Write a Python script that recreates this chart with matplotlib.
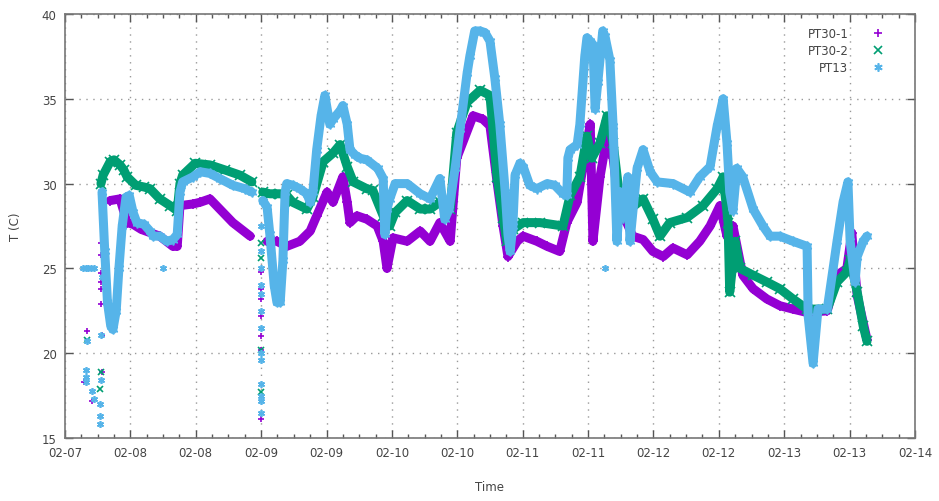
import numpy as np
import pandas as pd
import matplotlib
matplotlib.use("Agg")
import matplotlib.pyplot as plt
import matplotlib.dates as mdates

# hours since 02-07 00:00, temperature in C
pt301_h = [20.3, 22.1, 23.4, 24.5, 26.0, 29.4, 31.8, 32.6, 33.1, 35.5, 36.8, 38.6, 40.4, 42.8, 46.0,
           49.1, 50.9, 52.7, 55.1, 57.0, 58.2, 60.1, 61.2, 63.0, 63.8, 64.3, 65.6, 67.4, 69.3, 70.4,
           71.1, 72.2, 74.8, 77.2, 79.0, 80.8, 82.7, 83.9, 86.9, 88.7, 90.0, 91.3, 92.4, 93.3, 95.0,
           96.1, 98.6, 100.5, 102.8, 104.1, 106.0, 107.8, 108.4, 108.9, 110.2, 111.5, 112.6, 113.9,
           115.1, 116.2, 118.1, 119.9, 121.8, 123.6, 126.2, 128.5, 130.4, 132.2, 133.5, 134.6, 136.4,
           138.3, 140.8, 143.2, 145.6, 148.2, 151.9, 153.7, 155.5, 156.4, 157.4, 159.2]
pt301_t = [29.0, 29.1, 27.7, 27.6, 27.3, 26.9, 26.3, 26.3, 28.7, 28.8, 28.9, 29.1, 28.5, 27.7, 26.9,
           26.6, 26.6, 26.3, 26.6, 27.2, 28.1, 29.5, 28.9, 30.4, 28.9, 27.7, 28.1, 27.9, 27.5, 26.6,
           25.0, 26.8, 26.6, 27.2, 26.6, 27.7, 26.6, 31.5, 34.0, 33.8, 33.4, 30.1, 27.5, 25.7, 26.6,
           26.9, 26.6, 26.3, 26.0, 27.7, 28.9, 32.4, 33.5, 26.6, 30.4, 32.8, 31.5, 28.1,
           27.7, 26.9, 26.7, 26.0, 25.7, 26.2, 25.8, 26.6, 27.5, 28.7, 26.9, 27.5, 24.6,
           23.8, 23.2, 22.8, 22.6, 22.4, 22.5, 24.6, 25.0, 27.1, 23.4, 20.8]
pt301_gap = 15  # index where the 02-09 restart begins

pt302_h = [18.6, 19.0, 20.3, 21.0, 22.1, 22.8, 23.4, 25.0, 26.5, 27.6, 29.4, 31.3, 32.6, 33.1, 33.6,
           35.9, 38.6, 41.4, 44.1, 46.3,
           48.3, 49.6, 51.5, 52.7, 53.8, 56.4, 57.5, 59.4, 61.2, 62.5, 63.8, 64.9, 67.4, 68.5, 70.4,
           71.6, 72.6, 74.8, 77.2, 79.0, 80.8, 82.7, 83.9, 85.8, 88.2, 90.0, 91.3, 92.4, 93.1, 94.2,
           96.1, 99.2, 103.4, 104.7, 106.5, 107.8, 108.7, 110.2, 111.5, 112.6, 113.9, 115.1, 115.7,
           118.1, 119.9, 121.2, 123.0, 126.2, 129.1, 131.7, 132.8, 133.7, 134.0, 135.0, 135.9, 138.3,
           140.8, 143.2, 145.6, 148.2, 151.9, 153.7, 155.5, 156.1, 157.4, 158.5, 159.2]
pt302_t = [30.0, 30.5, 31.3, 31.4, 31.1, 30.8, 30.4, 29.9, 29.8, 29.7, 29.1, 28.7, 28.4, 30.0, 30.5,
           31.2, 31.1, 30.8, 30.5, 30.1,
           29.5, 29.4, 29.4, 29.3, 28.9, 28.5, 29.2, 31.3, 31.8, 32.3, 31.0, 30.1, 29.7, 29.6, 28.1,
           27.5, 28.3, 29.0, 28.5, 28.5, 28.9, 28.5, 33.0, 34.8, 35.5, 35.2, 30.4, 28.0, 26.6, 27.3,
           27.7, 27.7, 27.5, 29.3, 30.4, 32.8, 31.5, 32.4, 34.0, 32.4, 28.9, 28.4, 28.5,
           29.1, 27.9, 26.9, 27.7, 28.0, 28.7, 29.7, 30.4, 27.7, 23.6, 26.6, 25.0, 24.6,
           24.2, 23.8, 23.2, 22.6, 22.6, 24.2, 24.8, 25.5, 23.6, 21.6, 20.7]
pt302_gap = 20

pt13_h = [18.8, 19.3, 19.8, 20.4, 20.8, 21.4, 21.9, 22.5, 23.2, 23.8, 24.5, 25.2, 26.5, 27.6, 28.2,
          29.4, 30.7, 31.8, 32.6, 33.1, 33.6, 35.5, 36.8, 38.6, 40.4, 42.8, 45.0, 46.3,
          48.3, 49.1, 49.6, 50.4, 50.9, 51.5, 52.0, 52.4, 52.7, 53.8, 55.1, 56.4, 57.0, 57.5, 58.2,
          59.0, 59.7, 60.6, 61.2, 62.5, 63.0, 63.8, 64.3, 65.2, 66.1, 67.4, 69.4, 70.4, 70.7, 71.1,
          71.6, 72.6, 74.8, 77.2, 79.0, 80.8, 81.7, 82.5, 83.6, 84.5, 85.8, 86.3, 87.2, 88.2, 89.1,
          90.0, 90.9, 91.8, 92.8, 93.3, 93.7, 94.2, 94.6, 95.5, 96.1, 97.3, 98.6, 100.5, 101.9,
          103.4, 104.1, 104.3, 104.7, 106.0, 106.5, 107.4, 107.8, 108.4, 108.9, 109.3, 109.8, 110.7,
          111.1, 112.0, 112.6, 113.3, 113.9, 114.4, 115.3, 115.7, 117.0, 118.1, 119.4, 120.7, 123.6,
          126.7, 128.5, 130.4, 131.7, 132.8, 133.5, 134.0, 134.6, 135.3, 136.4, 138.3, 140.1, 141.4,
          143.2, 145.6, 148.2, 148.4, 149.3, 150.2, 151.9, 153.7, 154.8, 155.7, 156.1, 157.0, 157.4,
          158.5, 159.2]
pt13_t = [29.5, 26.0, 23.0, 21.6, 21.4, 22.5, 25.0, 27.5, 29.2, 29.3, 28.3, 27.7, 27.6, 27.2, 26.9,
          26.9, 26.6, 26.7, 27.0, 29.5, 30.1, 30.4, 30.7, 30.6, 30.3, 29.9, 29.7, 29.5,
          29.0, 28.6, 27.0, 24.0, 23.0, 23.0, 25.5, 29.5, 30.0, 29.9, 29.7, 29.4, 28.9, 29.5, 32.0,
          34.0, 35.2, 33.5, 33.8, 34.3, 34.6, 33.5, 32.0, 31.7, 31.5, 31.4, 30.9, 30.3, 27.0, 28.5,
          29.1, 30.0, 30.0, 29.4, 29.1, 30.3, 27.9, 28.5, 30.9, 33.2, 36.5, 37.5, 39.0, 39.0, 38.9,
          38.4, 36.2, 33.5, 29.5, 27.0, 26.0, 27.5, 30.5, 31.2, 31.0, 29.9, 29.7, 30.0, 29.9,
          29.4, 29.3, 31.5, 32.0, 32.3, 33.5, 37.5, 38.6, 38.4, 38.2, 34.4, 36.0, 39.0,
          38.7, 37.3, 33.4, 26.6, 29.5, 28.0, 30.4, 26.6, 30.9, 32.0, 30.7, 30.1, 30.0,
          29.5, 30.4, 31.0, 33.4, 35.0, 32.4, 29.5, 28.4, 30.9, 30.4, 28.5, 27.5, 26.9,
          26.9, 26.6, 26.3, 22.2, 19.4, 22.6, 22.6, 26.6, 28.9, 30.1, 26.6, 24.2, 25.7,
          26.6, 26.9]
pt13_gap = 28

# stray readings (sensor start-ups around 02-07 and 02-09)
pt301_stray_h = [16.0, 15.5, 17.0, 18.6, 18.6, 18.6, 18.6, 18.6, 18.6, 18.8, 18.8,
                 48.0, 48.0, 48.0, 48.0, 48.0, 48.0, 48.0]
pt301_stray_t = [21.3, 18.3, 17.2, 26.5, 25.8, 24.7, 24.2, 23.8, 22.9, 21.1, 18.9,
                 24.8, 23.8, 23.2, 22.2, 21.0, 20.2, 16.1]
pt302_stray_h = [16.0, 18.6, 18.4, 48.0, 48.0, 48.0, 48.0]
pt302_stray_t = [20.8, 18.9, 17.9, 26.5, 25.6, 20.2, 17.7]
pt13_stray_h = [15.3, 15.8, 16.3, 16.8, 17.3, 16.0, 15.9, 15.9, 15.9, 17.0, 17.3, 18.4, 18.4, 18.4,
                18.6, 18.6, 18.8, 30.0,
                48.0, 48.0, 48.0, 48.0, 48.0, 48.0, 48.0, 48.0, 48.0, 48.0, 48.0, 48.0, 48.0, 111.1]
pt13_stray_t = [25.0, 25.0, 25.0, 25.0, 25.0, 20.7, 19.0, 18.6, 18.3, 17.8, 17.3, 16.3, 15.8, 17.0,
                18.4, 21.1, 24.5, 25.0,
                27.5, 26.0, 25.0, 24.0, 23.5, 22.5, 21.5, 20.0, 19.6, 18.2, 17.5, 17.2, 16.5, 25.0]

labels = ["PT30-1", "PT30-2", "PT13"]
colors = ["#9400d3", "#009e73", "#56b4e9"]
markers = ["+", "x", (6, 2, 0)]

BASE = pd.Timestamp("2021-02-07")
def to_time(h):
    return BASE + pd.to_timedelta(np.asarray(h, dtype=float), unit="h")

fig = plt.figure(figsize=(9.39, 5.02), dpi=100)
ax = fig.add_axes([0.0692, 0.1255, 0.9052, 0.8446])

series = [(pt301_h, pt301_t, pt301_gap, pt301_stray_h, pt301_stray_t),
          (pt302_h, pt302_t, pt302_gap, pt302_stray_h, pt302_stray_t),
          (pt13_h, pt13_t, pt13_gap, pt13_stray_h, pt13_stray_t)]

for (h, t, gap, sh, st), lab, col, mk in zip(series, labels, colors, markers):
    for a, b in [(0, gap), (gap, len(h))]:
        ax.plot(to_time(h[a:b]), t[a:b], color=col, lw=6.5, solid_joinstyle="round",
                solid_capstyle="round", zorder=2)
        ax.plot(to_time(h[a:b]), t[a:b], ls="none", marker=mk, ms=7, mew=1.2, color=col, zorder=2)
    ax.plot(to_time(sh), st, ls="none", marker=mk, ms=5, mew=1.2, color=col, zorder=2)
    ax.plot([], [], ls="none", marker=mk, ms=6, mew=1.2, color=col, label=lab)

ax.set_xlim(BASE + pd.Timedelta(hours=12), BASE + pd.Timedelta(hours=168))
ax.set_ylim(15, 40)
ax.set_yticks([15, 20, 25, 30, 35, 40])
ax.xaxis.set_major_locator(mdates.HourLocator(byhour=[0, 12]))
ax.xaxis.set_minor_locator(mdates.HourLocator(byhour=range(0, 24, 3)))
ax.xaxis.set_major_formatter(mdates.DateFormatter("%m-%d"))

tc = "#444444"
ax.tick_params(which="major", direction="in", length=6, width=1, color="#555555",
               top=True, right=True, labelsize=8.5, labelcolor=tc, pad=6)
ax.tick_params(which="minor", direction="in", length=3, width=1, color="#555555", top=True)
ax.grid(True, which="major", ls=(0, (1, 4)), lw=1, color="#999999")
for s in ax.spines.values():
    s.set_color("#777777")
    s.set_linewidth(1.2)

ax.set_xlabel("Time", fontsize=8.5, color=tc, labelpad=15)
ax.set_ylabel("T (C)", fontsize=8.5, color=tc, labelpad=14)

leg = ax.legend(loc="upper right", frameon=False, markerfirst=False, fontsize=8.5,
                handlelength=1.5, handletextpad=1.8, labelspacing=0.35,
                bbox_to_anchor=(0.98, 0.995))
for txt in leg.get_texts():
    txt.set_color(tc)

fig.savefig("out.png", dpi=100)
